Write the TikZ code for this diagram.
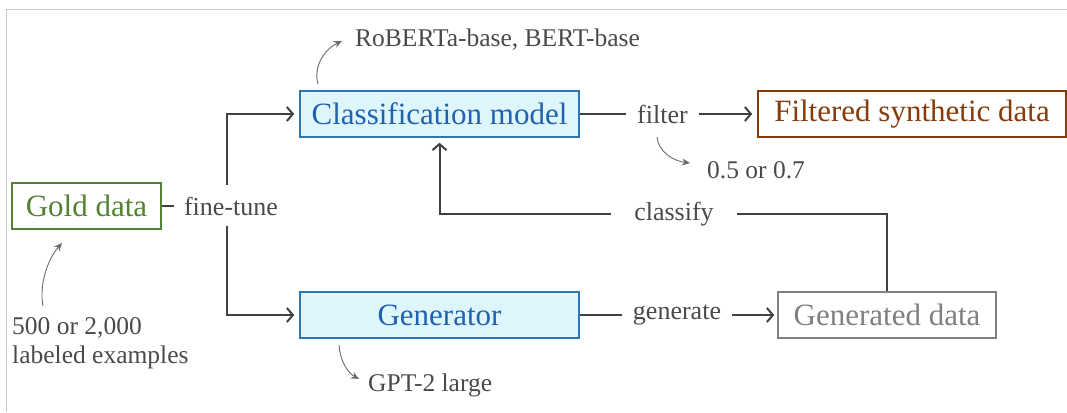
\documentclass[tikz,border=0pt]{standalone}
\usepackage{fontspec}
\setmainfont{Liberation Serif}
\usetikzlibrary{arrows.meta}

\definecolor{goldgreen}{HTML}{548235}
\definecolor{modelblue}{HTML}{1F62AE}
\definecolor{modeledge}{HTML}{2E75B6}
\definecolor{modelfill}{HTML}{DEF5FC}
\definecolor{filtbrown}{HTML}{843C0C}
\definecolor{gendgray}{HTML}{808080}
\definecolor{flowgray}{HTML}{404040}
\definecolor{labelgray}{HTML}{4A4A4A}
\definecolor{notegray}{HTML}{6A6A6A}
\definecolor{framegray}{HTML}{C8C8C8}

\tikzset{
  boxfont/.style={font=\fontsize{31}{37}\selectfont},
  databox/.style={boxfont, draw, line width=1.6pt, inner sep=0pt, minimum height=46pt},
  modelbox/.style={databox, draw=modeledge, fill=modelfill, text=modelblue, minimum width=279pt},
  steplabel/.style={font=\fontsize{26}{30}\selectfont, text=labelgray, inner xsep=11pt, inner ysep=2pt},
  note/.style={font=\fontsize{25.5}{29}\selectfont, text=labelgray, inner sep=0pt, anchor=west, align=left},
  flow/.style={draw=flowgray, line width=2pt},
  flowarrow/.style={flow, -{Straight Barb[length=6pt,width=14pt]}, shorten >=5pt},
  notearrow/.style={draw=notegray, line width=0.9pt, -{Stealth[length=8pt,width=7pt]}}
}

\begin{document}
\begin{tikzpicture}[x=1pt, y=-1pt]
  \useasboundingbox (0,0) rectangle (1067,412);
  % frame edges
  \draw[framegray, line width=1pt] (1067,10) -- (6,10) -- (6,412);

  % data and model boxes
  \node[databox, draw=goldgreen, text=goldgreen, minimum width=149pt] (gold) at (86.5,206) {Gold data};
  \node[modelbox] (cls) at (439.5,114) {Classification model};
  \node[modelbox] (gen) at (439.5,315) {Generator};
  \node[databox, draw=filtbrown, text=filtbrown, minimum width=308pt] (filt) at (912,114) {Filtered synthetic data};
  \node[databox, draw=gendgray, text=gendgray, minimum width=218pt] (gdat) at (887,315) {Generated data};

  % step labels
  \node[steplabel, inner xsep=10pt] (ft) at (231,206) {fine-tune};
  \node[steplabel] (flt) at (662.5,114) {filter};
  \node[steplabel, inner xsep=23pt] (clf) at (674,214) {classify};
  \node[steplabel] (gnr) at (677,315) {generate};

  % branch points above and below the fine-tune label
  \coordinate (ftup) at (227,185);
  \coordinate (ftdown) at (227,226);

  % flow connectors
  \draw[flow] (gold.east) -- (ft.west);
  \draw[flowarrow] (ftup) |- (cls.west);
  \draw[flowarrow] (ftdown) |- (gen.west);
  \draw[flow] (cls.east) -- (flt.west);
  \draw[flowarrow] (flt.east) -- (filt.west);
  \draw[flow] (gen.east) -- (gnr.west);
  \draw[flowarrow, shorten >=3pt] (gnr.east) -- (gdat.west);
  \draw[flow] (gdat.north) |- (clf.east);
  \draw[flowarrow] (clf.west) -| (cls.south);

  % annotations
  \node[note] (nroberta) at (355,40) {RoBERTa-base, BERT-base};
  \node[note] (nthresh) at (707,170) {0.5 or 0.7};
  \node[note] (ngpt) at (368,385) {GPT-2 large};
  \node[note] (ngold) at (12,343) {500 or 2,000\\labeled examples};

  % start and end points of the annotation pointers
  \coordinate (aroberta) at (318,84);
  \coordinate (troberta) at (342,41);
  \coordinate (athresh) at (657,137);
  \coordinate (tthresh) at (690,163);
  \coordinate (agpt) at (339,345);
  \coordinate (tgpt) at (359,379);
  \coordinate (agold) at (43,306);
  \coordinate (tgold) at (62,243);

  \draw[notearrow] (aroberta) .. controls (313,66) and (325,49) .. (troberta);
  \draw[notearrow] (athresh) .. controls (658,151) and (673,161) .. (tthresh);
  \draw[notearrow] (agpt) .. controls (340,361) and (348,373) .. (tgpt);
  \draw[notearrow] (agold) .. controls (39,286) and (47,260) .. (tgold);
\end{tikzpicture}
\end{document}
